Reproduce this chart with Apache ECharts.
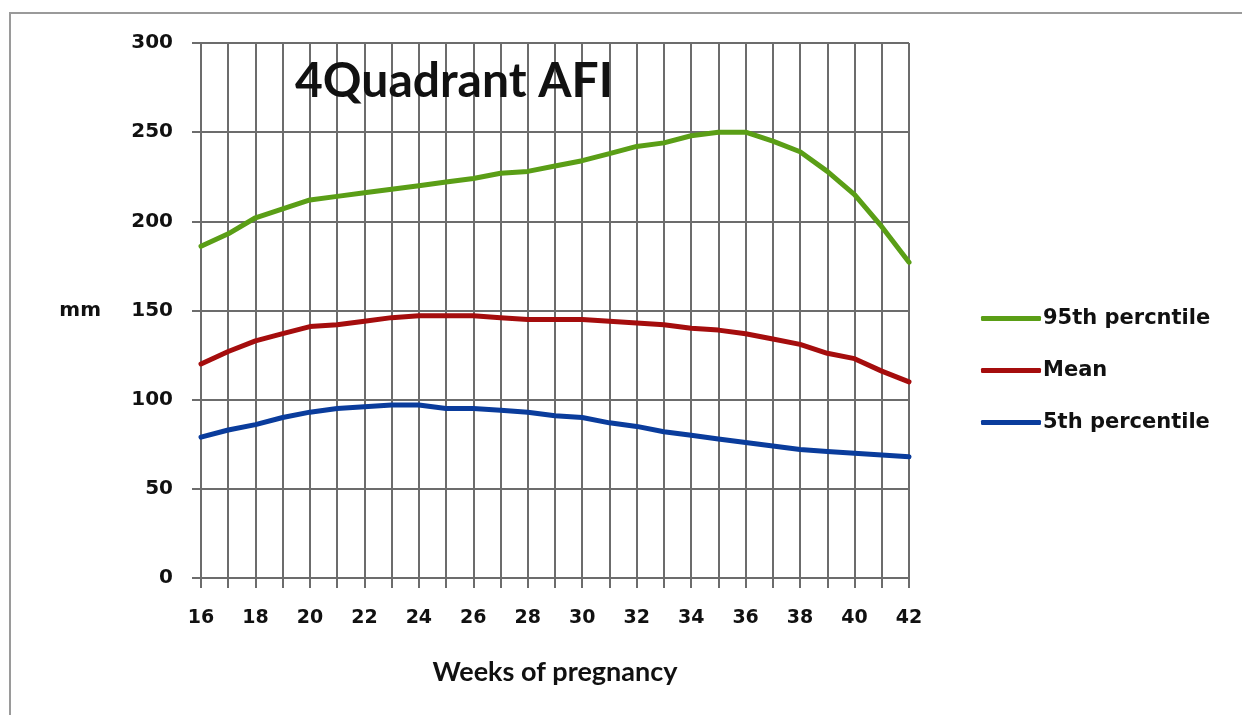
<!DOCTYPE html>
<html>
<head>
<meta charset="utf-8">
<title>4Quadrant AFI</title>
<script src="https://cdn.jsdelivr.net/npm/echarts@6/dist/echarts.min.js"></script>
<style>
  html, body { margin: 0; padding: 0; background: #ffffff; }
  #chart { width: 1242px; height: 715px; }
</style>
</head>
<body>
<div id="chart"></div>
<script>
// Weeks of pregnancy (x) and amniotic fluid index in mm (y)
const weeks = [16, 17, 18, 19, 20, 21, 22, 23, 24, 25, 26, 27, 28, 29,
               30, 31, 32, 33, 34, 35, 36, 37, 38, 39, 40, 41, 42];
const p95 = [186, 193, 202, 207, 212, 214, 216, 218, 220, 222, 224, 227, 228, 231,
             234, 238, 242, 244, 248, 250, 250, 245, 239, 228, 215, 197, 177];
const mean = [120, 127, 133, 137, 141, 142, 144, 146, 147, 147, 147, 146, 145, 145,
              145, 144, 143, 142, 140, 139, 137, 134, 131, 126, 123, 116, 110];
const p5 = [79, 83, 86, 90, 93, 95, 96, 97, 97, 95, 95, 94, 93, 91,
            90, 87, 85, 82, 80, 78, 76, 74, 72, 71, 70, 69, 68];
const seriesNames = ['95th percntile', 'Mean', '5th percentile'];
const yTicks = [0, 50, 100, 150, 200, 250, 300];

const WIDE = '"DejaVu Sans", Verdana, sans-serif';
const NARROW = 'Lato, "Open Sans", sans-serif';
const GRID_COLOR = '#6c6c6c';
const TEXT = '#111111';
const colors = ['#5a9e16', '#a50d0d', '#0a3c9c'];

const pairs = vals => weeks.map((w, i) => [w, vals[i]]);

const chart = echarts.init(document.getElementById('chart'), null, { renderer: 'canvas' });

chart.setOption({
  animation: false,
  backgroundColor: '#ffffff',
  title: {
    text: '4Quadrant AFI',
    left: 290,
    top: 53,
    textStyle: { fontFamily: NARROW, fontWeight: 'bold', fontSize: 48, color: TEXT }
  },
  legend: {
    orient: 'vertical',
    left: 976,
    top: 303,
    itemGap: 31,
    itemWidth: 60,
    itemHeight: 5,
    icon: 'roundRect',
    data: seriesNames,
    textStyle: { fontFamily: WIDE, fontWeight: 'bold', fontSize: 21, color: TEXT, padding: [0, 0, 0, -3] }
  },
  grid: { left: 201, right: 333, top: 43, bottom: 137, containLabel: false },
  xAxis: {
    type: 'value',
    min: 16,
    max: 42,
    interval: 1,
    name: 'Weeks of pregnancy',
    nameLocation: 'middle',
    nameGap: 81,
    nameTextStyle: { fontFamily: NARROW, fontWeight: 'bold', fontSize: 27, color: TEXT },
    axisLine: { show: true, lineStyle: { color: GRID_COLOR, width: 2 } },
    axisTick: { show: true, length: 10, lineStyle: { color: GRID_COLOR, width: 2 } },
    axisLabel: {
      margin: 31,
      fontFamily: WIDE, fontWeight: 'bold', fontSize: 19, color: TEXT,
      formatter: v => (v % 2 === 0 ? String(v) : '')
    },
    splitLine: { show: true, lineStyle: { color: GRID_COLOR, width: 2 } }
  },
  yAxis: {
    type: 'value',
    min: 0,
    max: 300,
    interval: 50,
    name: 'mm',
    nameLocation: 'middle',
    nameRotate: 0,
    nameGap: 100,
    nameTextStyle: { fontFamily: WIDE, fontWeight: 'bold', fontSize: 20, color: TEXT },
    axisLine: { show: true, lineStyle: { color: GRID_COLOR, width: 2 } },
    axisTick: { show: true, length: 9, lineStyle: { color: GRID_COLOR, width: 2 } },
    axisLabel: {
      margin: 28,
      fontFamily: WIDE, fontWeight: 'bold', fontSize: 20, color: TEXT,
      formatter: v => (yTicks.includes(v) ? String(v) : '')
    },
    splitLine: { show: true, lineStyle: { color: GRID_COLOR, width: 2 } }
  },
  series: [p95, mean, p5].map((vals, i) => ({
    name: seriesNames[i],
    type: 'line',
    data: pairs(vals),
    symbol: 'none',
    smooth: false,
    color: colors[i],
    lineStyle: { color: colors[i], width: 5, cap: 'round', join: 'round' }
  })),
  graphic: [{
    type: 'rect',
    shape: { x: 10, y: 13, width: 1300, height: 800 },
    style: { fill: 'none', stroke: '#9a9a9a', lineWidth: 2 },
    silent: true,
    z: -1
  }]
});
</script>
</body>
</html>
